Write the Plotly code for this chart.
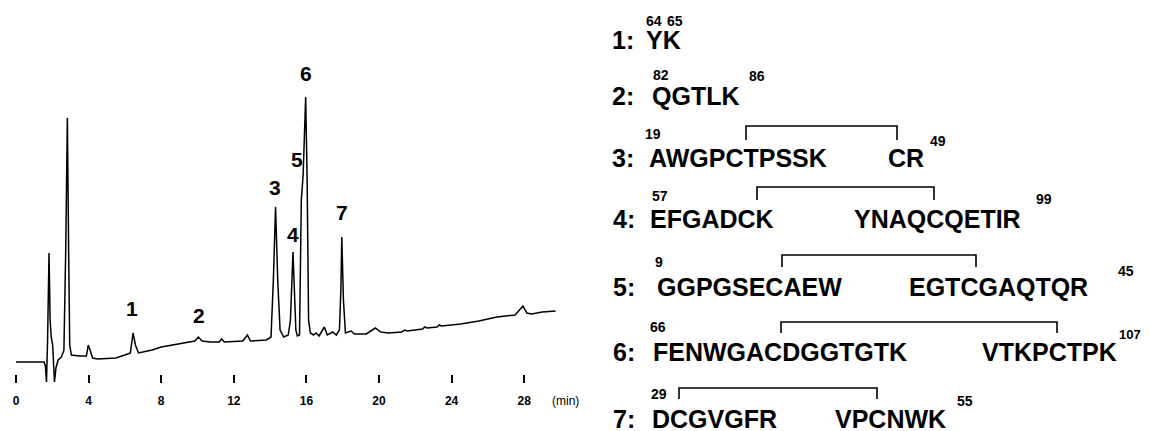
import plotly.graph_objects as go

# ---------------- chromatogram data (retention time in min, detector signal a.u.) -------------
time_min = [0.0, 1.55, 1.62, 1.68, 1.74, 1.82, 1.88, 1.94, 2.02, 2.08, 2.12, 2.2, 2.32, 2.5,
             2.64, 2.74, 2.83, 2.9, 2.96, 3.05, 3.5, 3.88, 3.98, 4.08, 4.22, 4.5, 5.5, 6.0,
             6.3, 6.45, 6.58, 6.75, 7.5, 8.0, 9.0, 9.85, 10.05, 10.25, 10.7, 11.2, 11.33,
             11.48, 12.5, 12.75, 12.92, 13.8, 14.05, 14.18, 14.3, 14.42, 14.55, 14.75, 15.0,
             15.12, 15.26, 15.34, 15.42, 15.5, 15.62, 15.72, 15.82, 15.96, 16.04, 16.12,
             16.22, 16.4, 16.53, 16.7, 16.99, 17.15, 17.45, 17.65, 17.82, 17.9, 17.95, 18.04,
             18.15, 18.46, 18.65, 19.3, 19.8, 20.1, 20.5, 21.25, 21.42, 21.55, 22.4, 22.52,
             22.65, 23.2, 23.32, 23.45, 24.5, 25.5, 26.5, 27.5, 27.93, 28.15, 28.4, 29.0, 29.73]
signal = [0, 0, -4, -20, 22, 109, 42, 25, 17, -8, -20, -6, 2, 5,
          12, 112, 244, 112, 17, 7, 6, 6, 17, 12, 4, 3, 4, 7,
          9, 29, 17, 9, 12, 15, 18, 21, 25, 21, 20, 20, 23,
          20, 21, 27, 21, 22, 25, 82, 155, 82, 32, 25, 27,
          42, 110, 62, 32, 26, 27, 162, 187, 265, 182, 42,
          29, 27, 29, 26, 35, 27, 30, 27, 32, 72, 125, 62,
          29, 31, 28, 28, 34, 30, 29, 30, 32, 31, 33, 35,
          34, 35, 37, 36, 38, 41, 45, 47, 56, 49, 48, 50, 51]

time_ticks = [0, 4, 8, 12, 16, 20, 24, 28]
time_unit = "(min)"

peak_numbers = ["1", "2", "3", "4", "5", "6", "7"]
peak_label_time = [6.39, 10.1, 14.27, 15.24, 15.46, 15.98, 17.94]
peak_label_signal = [54, 47, 174, 127, 202, 288, 149]

# ---------------- peptide assignments --------------------------------------------------------
peptide_ids = ["1:", "2:", "3:", "4:", "5:", "6:", "7:"]
seq_left = ["YK", "QGTLK", "AWGPCTPSSK", "EFGADCK", "GGPGSECAEW", "FENWGACDGGTGTK", "DCGVGFR"]
seq_right = ["", "", "CR", "YNAQCQETIR", "EGTCGAQTQR", "VTKPCTPK", "VPCNWK"]
res_start = ["64", "82", "19", "57", "9", "66", "29"]
res_end = ["65", "86", "49", "99", "45", "107", "55"]

# ---------------- layout positions (page pixels) -------------------------------------------
row_y = [40, 96, 158, 219, 287, 352, 419]
id_x = [611, 611, 611, 612, 612, 612, 612]
left_x = [645, 651, 648, 649, 656, 652, 651]
right_x = [None, None, 887, 853, 908, 981, 834]
start_xy = [(654, 21), (661, 75), (653, 134), (660, 196), (659, 262), (658, 327), (659, 394)]
end_xy = [(675, 21), (757, 76), (938, 141), (1044, 199), (1126, 271), (1130, 334), (965, 401)]
end_size = [14, 14, 14, 14, 14, 13, 14]
bridges = [None, None, (746, 897, 126, 140), (757, 934, 187, 200), (782, 976, 255, 267),
           (781, 1057, 322, 333), (679, 877, 388, 399)]

PAGE_W, PAGE_H, BODY = 1151, 431, 8          # the html body has an 8 px margin
W, H = PAGE_W - BODY, PAGE_H - BODY
SEQ_FONT = "Liberation Sans, Arial, Helvetica, sans-serif"

fig = go.Figure()
fig.add_trace(go.Scatter(x=time_min, y=signal, mode="lines",
                         line=dict(color="black", width=1.5),
                         xaxis="x", yaxis="y", showlegend=False, hoverinfo="skip"))

bx, by = [], []
for b in bridges:
    if b is None:
        continue
    x0, x1, top, bot = b
    bx += [x0, x0, x1, x1, None]
    by += [bot, top, top, bot, None]
fig.add_trace(go.Scatter(x=bx, y=by, mode="lines", line=dict(color="black", width=1.6),
                         xaxis="x2", yaxis="y2", showlegend=False, hoverinfo="skip"))

ann = []
for t, s, lab in zip(peak_label_time, peak_label_signal, peak_numbers):
    ann.append(dict(x=t, y=s, xref="x", yref="y", text=lab, showarrow=False,
                    font=dict(family=SEQ_FONT, size=21, color="black", weight="bold"),
                    xanchor="center", yanchor="middle", borderpad=0))
ann.append(dict(x=565, y=401, xref="x2", yref="y2", text=time_unit, showarrow=False,
                font=dict(family=SEQ_FONT, size=12, color="black"),
                xanchor="center", yanchor="middle", borderpad=0))

big = dict(family=SEQ_FONT, size=25, color="black", weight="bold")
for i in range(len(peptide_ids)):
    y = row_y[i]
    ann.append(dict(x=id_x[i], y=y, xref="x2", yref="y2", text=peptide_ids[i], showarrow=False,
                    font=big, xanchor="left", yanchor="middle", borderpad=0))
    ann.append(dict(x=left_x[i], y=y, xref="x2", yref="y2", text=seq_left[i], showarrow=False,
                    font=big, xanchor="left", yanchor="middle", borderpad=0))
    if seq_right[i]:
        ann.append(dict(x=right_x[i], y=y, xref="x2", yref="y2", text=seq_right[i],
                        showarrow=False, font=big, xanchor="left", yanchor="middle", borderpad=0))
    for (px, py), txt, fs in ((start_xy[i], res_start[i], 14), (end_xy[i], res_end[i], end_size[i])):
        ann.append(dict(x=px, y=py, xref="x2", yref="y2", text=txt, showarrow=False,
                        font=dict(family=SEQ_FONT, size=fs, color="black", weight="bold"),
                        xanchor="center", yanchor="middle", borderpad=0))

# main plot area in page pixels
plot_left, plot_top, plot_bot, plot_right = 8, 60, 383, 580
x0px, pxmin, base_px = 16, 18.15, 362
fig.update_layout(
    width=W, height=H, margin=dict(l=0, r=0, t=0, b=0),
    paper_bgcolor="white", plot_bgcolor="rgba(0,0,0,0)", showlegend=False,
    annotations=ann,
    xaxis=dict(domain=[(plot_left - BODY) / W, (plot_right - BODY) / W],
               range=[(plot_left - x0px) / pxmin, (plot_right - x0px) / pxmin],
               anchor="y", showgrid=False, zeroline=False, showline=False,
               ticks="inside", ticklen=8, tickwidth=2, tickcolor="black",
               tickvals=time_ticks, ticktext=[str(v) for v in time_ticks],
               tickfont=dict(family=SEQ_FONT, size=12, color="black", weight="bold"),
               ticklabelstandoff=9, fixedrange=True),
    yaxis=dict(domain=[(PAGE_H - plot_bot) / H, (PAGE_H - plot_top) / H],
               range=[base_px - plot_bot, base_px - plot_top], visible=False, anchor="x",
               fixedrange=True),
    xaxis2=dict(domain=[0, 1], range=[BODY, PAGE_W], visible=False, anchor="y2"),
    yaxis2=dict(domain=[0, 1], range=[PAGE_H, BODY], visible=False, anchor="x2"),
)

fig.write_html("out.html")
